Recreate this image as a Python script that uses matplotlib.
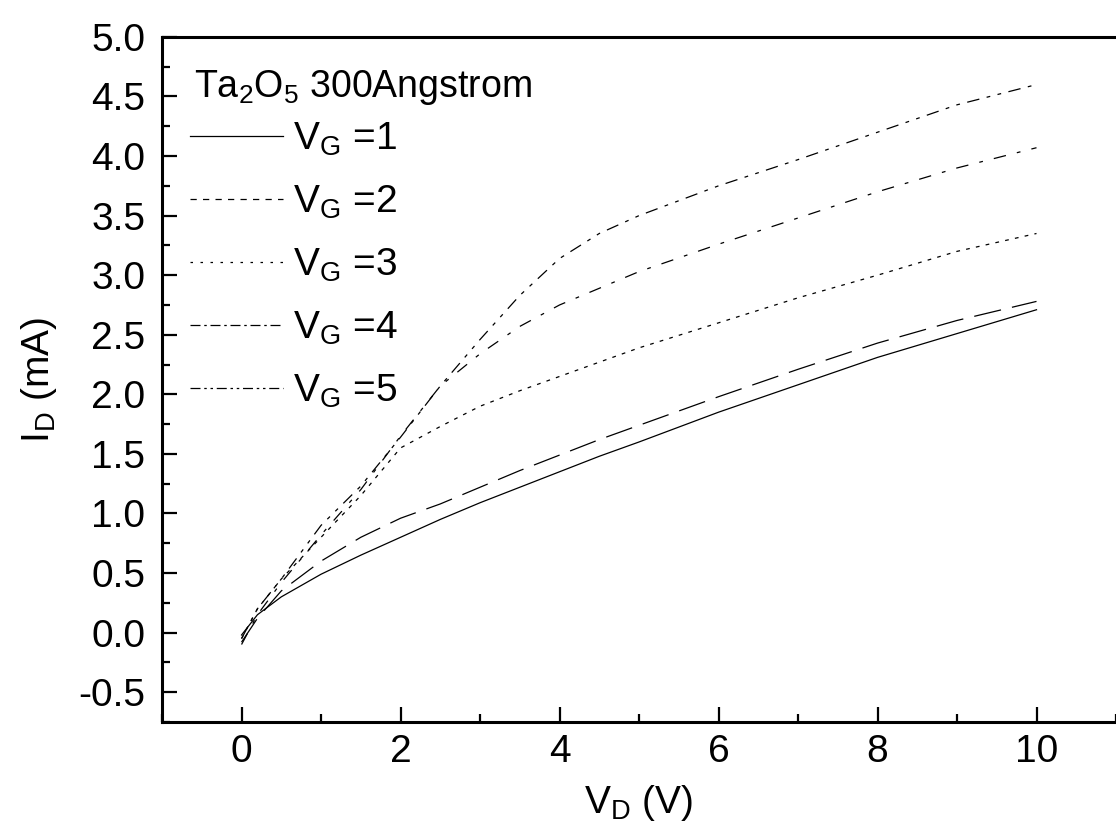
import matplotlib.pyplot as plt
from matplotlib.lines import Line2D
from matplotlib.ticker import MultipleLocator

plt.rcParams['font.family'] = ['Liberation Sans', 'DejaVu Sans']
plt.rcParams['mathtext.fontset'] = 'custom'
plt.rcParams['mathtext.rm'] = 'Liberation Sans'
plt.rcParams['mathtext.it'] = 'Liberation Sans:italic'
plt.rcParams['mathtext.bf'] = 'Liberation Sans:bold'

# drain voltage (V)
vd = [0, 0.2, 0.5, 1, 1.5, 2, 2.5, 3, 3.5, 4, 4.5, 5, 6, 7, 8, 9, 10]

# drain current (mA) for each gate voltage
id_vg1 = [-0.02, 0.15, 0.30, 0.49, 0.65, 0.80, 0.95, 1.09, 1.22, 1.35, 1.48, 1.60, 1.85, 2.08, 2.31, 2.51, 2.71]
id_vg2 = [-0.08, 0.12, 0.35, 0.60, 0.80, 0.96, 1.08, 1.22, 1.36, 1.49, 1.62, 1.74, 1.98, 2.21, 2.43, 2.62, 2.78]
id_vg3 = [-0.05, 0.20, 0.45, 0.80, 1.15, 1.55, 1.73, 1.90, 2.03, 2.15, 2.27, 2.39, 2.60, 2.81, 3.00, 3.20, 3.35]
id_vg4 = [-0.10, 0.15, 0.42, 0.82, 1.20, 1.65, 2.07, 2.34, 2.57, 2.75, 2.89, 3.03, 3.26, 3.48, 3.70, 3.90, 4.07]
id_vg5 = [-0.05, 0.20, 0.45, 0.90, 1.23, 1.64, 2.07, 2.46, 2.83, 3.14, 3.35, 3.50, 3.75, 3.97, 4.20, 4.43, 4.60]

labels = ['1', '2', '3', '4', '5']
series = [id_vg1, id_vg2, id_vg3, id_vg4, id_vg5]
line_dashes = [None, (22, 9), (3, 5), (10, 9, 3, 9), (10, 6, 3, 6, 3, 6)]
legend_dashes = [None, (5, 5), (2, 6), (8, 3, 2, 3), (8, 3, 2, 3, 2, 3)]

fig = plt.figure(figsize=(11.16, 8.39), dpi=100)
ax = fig.add_axes([0.1452, 0.1395, 0.8548, 0.8165])

for y, d in zip(series, line_dashes):
    line, = ax.plot(vd, y, color='black', lw=0.9)
    if d is not None:
        line.set_dashes(d)

handles = []
for d in legend_dashes:
    h = Line2D([], [], color='black', lw=0.9)
    if d is not None:
        h.set_dashes(d)
    handles.append(h)

ax.legend(handles, [r'$\mathregular{V_G}$ =' + s for s in labels],
          loc='upper left', bbox_to_anchor=(0.029, 0.878), borderaxespad=0,
          borderpad=0, frameon=False, fontsize=28, handlelength=2.4,
          handletextpad=0.25, labelspacing=0.66)

ax.text(0.033, 0.955, r'Ta$_2$O$_5$ 300Angstrom', transform=ax.transAxes,
        fontsize=27, va='top', ha='left')

ax.set_xlim(-1, 11)
ax.set_ylim(-0.75, 5.0)
ax.xaxis.set_major_locator(MultipleLocator(2))
ax.xaxis.set_minor_locator(MultipleLocator(1))
ax.yaxis.set_major_locator(MultipleLocator(0.5))
ax.yaxis.set_minor_locator(MultipleLocator(0.25))
ax.yaxis.set_major_formatter(lambda v, p: f'{v:.1f}')

ax.tick_params(which='both', direction='in', width=1.6, labelsize=28)
ax.tick_params(which='major', length=11)
ax.tick_params(which='minor', length=6)
ax.tick_params(axis='x', pad=9)
ax.tick_params(axis='y', pad=12)

for s in ['left', 'bottom', 'top']:
    ax.spines[s].set_linewidth(2.2)
ax.spines['right'].set_visible(False)

ax.set_xlabel(r'$\mathregular{V_D}$ (V)', fontsize=28, labelpad=9)
ax.set_ylabel(r'$\mathregular{I_D}$ (mA)', fontsize=28, labelpad=14)

fig.savefig('out.png', dpi=100)
